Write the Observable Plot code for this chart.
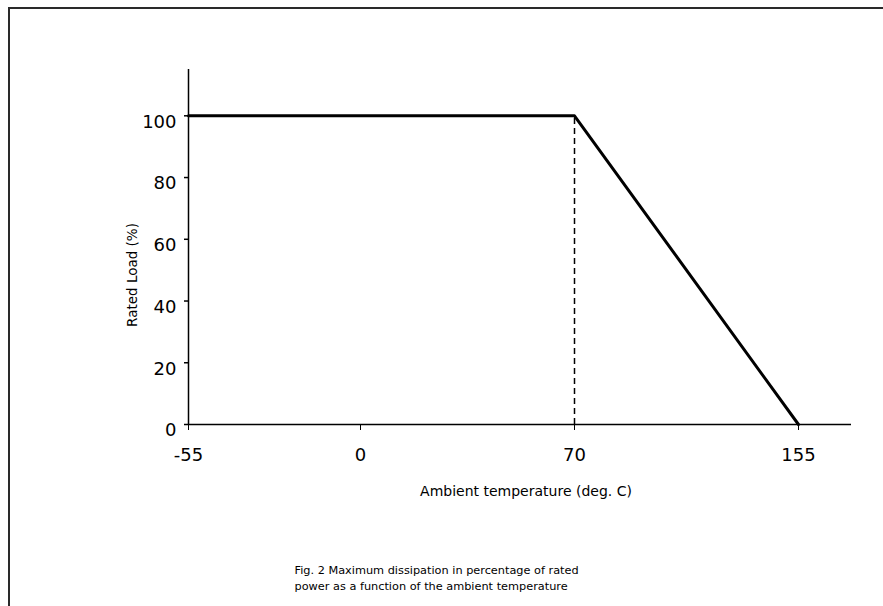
<!DOCTYPE html>
<html>
<head>
<meta charset="utf-8">
<script src="https://cdn.jsdelivr.net/npm/d3@7"></script>
<script src="https://cdn.jsdelivr.net/npm/@observablehq/plot@0.6"></script>
<style>
  html, body { margin: 0; padding: 0; background: #fff; overflow: hidden; }
  #wrap { position: relative; width: 883px; height: 606px; overflow: hidden; }
  #border { position: absolute; left: 8px; top: 7px; width: 1000px; height: 1000px;
            border: 2px solid #2a2a2a; box-sizing: border-box; pointer-events: none; }
  #chart { position: absolute; left: 0; top: 0; }
</style>
</head>
<body>
<div id="wrap">
  <div id="chart"></div>
  <div id="border"></div>
</div>
<script>
// Data
const temperature = [-55, 70, 155];
const ratedLoad = [100, 100, 0];
const kneeTemperature = [70];
const kneeLoad = [100];
const xTicks = [-55, 0, 70, 155];
const yTicks = [0, 20, 40, 60, 80, 100];
const xTitle = "Ambient temperature (deg. C)";
const yTitle = "Rated Load (%)";
const caption = "Fig. 2 Maximum dissipation in percentage of rated\npower as a function of the ambient temperature";

const curve = temperature.map((t, i) => ({t, load: ratedLoad[i]}));
const knee = kneeTemperature.map((t, i) => ({t, load: kneeLoad[i]}));

// The original axis is not evenly spaced: piecewise mapping of the tick values
const axisWarp = d3.scaleLinear().domain([-55, 0, 70, 155]).range([0, 172, 386, 610]);

const chart = Plot.plot({
  width: 883,
  height: 606,
  marginLeft: 188,
  marginRight: 32,
  marginTop: 69,
  marginBottom: 182,
  style: {fontFamily: "'DejaVu Sans', sans-serif", color: "#000", background: "transparent"},
  x: {transform: t => axisWarp(t), domain: [0, 663]},
  y: {domain: [0, 115]},
  marks: [
    Plot.ruleY([0], {stroke: "#000", strokeWidth: 1.5}),
    Plot.ruleX([-55], {stroke: "#000", strokeWidth: 1.5}),
    Plot.axisX({ticks: xTicks.map(t => axisWarp(t)), tickSize: 6, tickPadding: 18, fontSize: 18, label: null, tickFormat: (d, i) => String(xTicks[i]), strokeWidth: 1}),
    Plot.axisY({ticks: yTicks, tickSize: 4, tickFormat: () => "", label: null, strokeWidth: 1.5}),
    Plot.axisY({ticks: yTicks, tickSize: 0, tickPadding: 12, fontSize: 18, label: null, dy: 6}),
    Plot.ruleX(knee, {x: "t", y1: 0, y2: "load", stroke: "#000", strokeWidth: 1.5, strokeDasharray: "6,4"}),
    Plot.line(curve, {x: "t", y: "load", stroke: "#000", strokeWidth: 3}),
    Plot.text([xTitle], {frameAnchor: "bottom", textAnchor: "middle", lineAnchor: "middle", dx: 6, dy: 67, fontSize: 14, fill: "#000"}),
    Plot.text([yTitle], {frameAnchor: "left", textAnchor: "middle", lineAnchor: "middle", rotate: -90, dx: -56, dy: 28, fontSize: 13.5, fill: "#000"}),
    Plot.text([caption], {frameAnchor: "bottom-left", textAnchor: "start", lineAnchor: "middle", dx: 106, dy: 152.5, fontSize: 11.3, lineHeight: 1.35, fill: "#000"})
  ]
});
document.getElementById("chart").appendChild(chart);
</script>
</body>
</html>
